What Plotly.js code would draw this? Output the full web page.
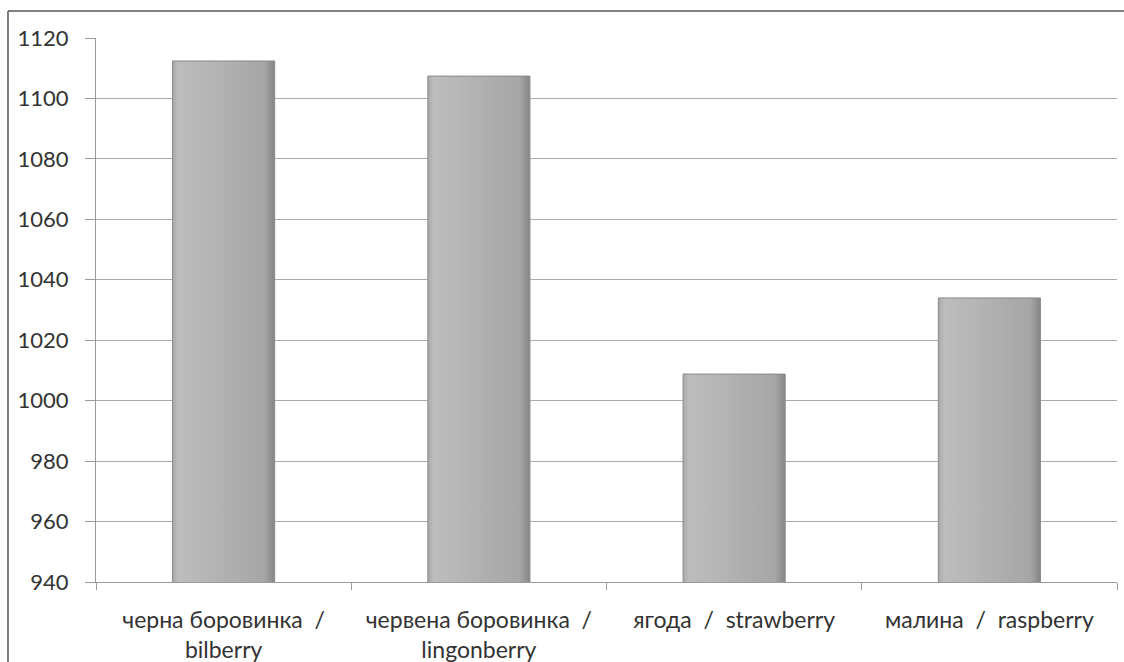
<!DOCTYPE html>
<html>
<head>
<meta charset="utf-8">
<script src="https://cdn.plot.ly/plotly-3.0.1.min.js"></script>
<style>html,body{margin:0;padding:0;background:#fff;}#chart{width:1124px;height:662px;}</style>
</head>
<body>
<div id="chart"></div>
<script>
const categories = ["черна боровинка  /<br>bilberry", "червена боровинка  /<br>lingonberry", "ягода  /  strawberry", "малина  /  raspberry"];
const values = [1112.4, 1107.4, 1008.8, 1034];
const yTicks = [940, 960, 980, 1000, 1020, 1040, 1060, 1080, 1100, 1120];

const trace = {
  type: "bar",
  x: categories,
  y: values,
  marker: { color: "#b0b0b0", line: { color: "#8a8a8a", width: 1 } },
  hoverinfo: "skip"
};

const layout = {
  width: 1124, height: 662,
  margin: { l: 96, r: 7, t: 38, b: 80 },
  paper_bgcolor: "#ffffff", plot_bgcolor: "#ffffff",
  bargap: 0.6,
  showlegend: false,
  font: { family: "Lato, 'Open Sans', sans-serif", size: 20, color: "#333333" },
  xaxis: {
    type: "category",
    showgrid: false,
    showline: true, linecolor: "#9a9a9a", linewidth: 1,
    ticks: "outside", tickson: "boundaries", ticklen: 7, tickcolor: "#9a9a9a",
    tickfont: { family: "Lato, 'Open Sans', sans-serif", size: 23, color: "#333333" },
    ticklabelstandoff: 17
  },
  yaxis: {
    range: [940, 1120],
    tickvals: yTicks,
    ticktext: yTicks.map(String),
    showgrid: true, gridcolor: "#ababab", gridwidth: 1,
    showline: true, linecolor: "#9a9a9a", linewidth: 1,
    ticks: "outside", ticklen: 10, tickcolor: "#9a9a9a",
    zeroline: false,
    tickfont: { family: "Lato, 'Open Sans', sans-serif", size: 22, color: "#333333" },
    ticklabelstandoff: 12
  },
  shapes: [
    { type: "line", xref: "paper", yref: "paper", x0: -0.0862, x1: 1.01, y0: 1.0496, y1: 1.0496, line: { color: "#555555", width: 1.5 } },
    { type: "line", xref: "paper", yref: "paper", x0: -0.0862, x1: -0.0862, y0: 1.0496, y1: -0.2, line: { color: "#555555", width: 1.5 } }
  ]
};

Plotly.newPlot("chart", [trace], layout, { staticPlot: true, displayModeBar: false }).then(function (gd) {
  const svg = gd.querySelector("svg.main-svg");
  const ns = "http://www.w3.org/2000/svg";
  let defs = svg.querySelector("defs");
  if (!defs) { defs = document.createElementNS(ns, "defs"); svg.insertBefore(defs, svg.firstChild); }
  const g = document.createElementNS(ns, "linearGradient");
  g.setAttribute("id", "barGrad");
  g.setAttribute("x1", "0"); g.setAttribute("x2", "1"); g.setAttribute("y1", "0"); g.setAttribute("y2", "0");
  [["0", "#a9a9a9"], ["0.06", "#bdbdbd"], ["0.5", "#b1b1b1"], ["0.9", "#a6a6a6"], ["1", "#858585"]].forEach(function (s) {
    const st = document.createElementNS(ns, "stop");
    st.setAttribute("offset", s[0]); st.setAttribute("stop-color", s[1]);
    g.appendChild(st);
  });
  defs.appendChild(g);
  gd.querySelectorAll(".bars .point path").forEach(function (p) { p.style.fill = "url(#barGrad)"; });
});
</script>
</body>
</html>
